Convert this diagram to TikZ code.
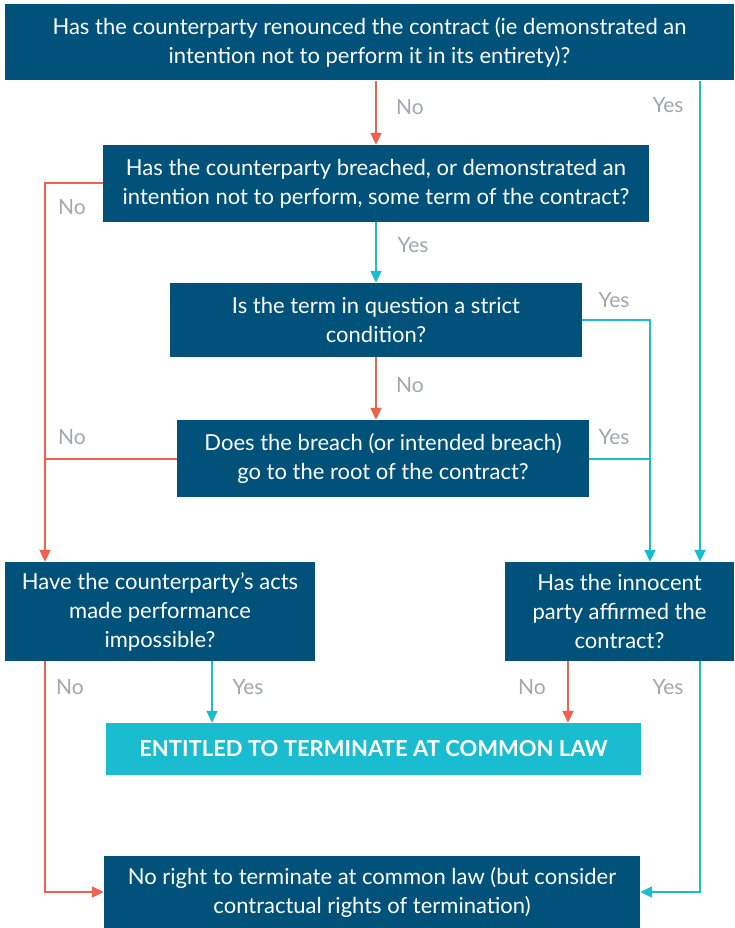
\documentclass[tikz,border=0pt]{standalone}
\usepackage{fontspec}
\setmainfont{Lato}
\usetikzlibrary{arrows.meta}

\definecolor{boxblue}{RGB}{0,82,122}
\definecolor{nored}{RGB}{240,96,77}
\definecolor{yescyan}{RGB}{26,189,208}
\definecolor{labelgray}{RGB}{160,167,173}

\tikzset{
    question/.style={fill=boxblue, text=white, inner sep=0pt, align=center,
        font=\fontsize{22}{29}\selectfont},
    result/.style={fill=yescyan, text=white, inner sep=0pt, align=center,
        font=\fontsize{22}{29}\selectfont\bfseries},
    noline/.style={draw=nored, line width=2pt},
    yesline/.style={draw=yescyan, line width=2pt},
    tip/.style={-{Triangle[length=12pt,width=11pt]}},
    answer/.style={text=labelgray, inner sep=0pt, font=\fontsize{21}{25}\selectfont}
}

\begin{document}
\begin{tikzpicture}[x=1pt, y=-1pt]
    \useasboundingbox (0,0) rectangle (734,928);

    % Columns used by the connectors
    \coordinate (lcol) at (45,0);
    \coordinate (ycol) at (212,0);
    \coordinate (ncol) at (568,0);
    \coordinate (mcol) at (650,0);
    \coordinate (rcol) at (700,0);

    % Draw the question boxes
    \node[question, minimum width=729pt, minimum height=76pt] (q1) at (369.5,42.5)
        {Has the counterparty renounced the contract (ie demonstrated an\\intention not to perform it in its entirety)?};
    \node[question, minimum width=546pt, minimum height=77pt] (q2) at (376,183.5)
        {Has the counterparty breached, or demonstrated an\\intention not to perform, some term of the contract?};
    \node[question, minimum width=412pt, minimum height=74pt] (q3) at (376,320)
        {Is the term in question a strict\\condition?};
    \node[question, minimum width=412pt, minimum height=77pt] (q4) at (383,458.5)
        {Does the breach (or intended breach)\\go to the root of the contract?};
    \node[question, minimum width=310pt, minimum height=99pt] (q5) at (160,611.5)
        {Have the counterparty’s acts\\made performance\\impossible?};
    \node[question, minimum width=229pt, minimum height=99pt] (q6) at (619.5,611.5)
        {Has the innocent\\party affirmed the\\contract?};

    % Outcomes
    \node[result, minimum width=535pt, minimum height=52pt] (entitled) at (373.5,749)
        {ENTITLED TO TERMINATE AT COMMON LAW};
    \node[question, minimum width=536pt, minimum height=72pt] (noright) at (372,892)
        {No right to terminate at common law (but consider\\contractual rights of termination)};

    % No branches
    \draw[noline, tip] (q1.south -| q2.north) -- (q2.north);
    \draw[noline, tip] (q2.west) -| (q5.north -| lcol);
    \draw[noline, tip] (q3.south) -- (q3.south |- q4.north);
    \draw[noline] (q4.west) -- (q4.west -| lcol);
    \draw[noline, tip] (q5.south -| lcol) |- (noright.west);
    \draw[noline, tip] (q6.south -| ncol) -- (entitled.north -| ncol);

    % Yes branches
    \draw[yesline, tip] (q1.south -| rcol) -- (q6.north -| rcol);
    \draw[yesline, tip] (q2.south) -- (q3.north);
    \draw[yesline, tip] (q3.east) -| (q6.north -| mcol);
    \draw[yesline] (q4.east) -- (q4.east -| mcol);
    \draw[yesline, tip] (q5.south -| ycol) -- (entitled.north -| ycol);
    \draw[yesline, tip] (q6.south -| rcol) |- (noright.east);

    % Answer labels
    \node[answer] (n1) at (410,107) {No};
    \node[answer] (y1) at (668,105) {Yes};
    \node[answer] (n2) at (72,207) {No};
    \node[answer] (y2) at (413,245) {Yes};
    \node[answer] (y3) at (614,300) {Yes};
    \node[answer] (n3) at (410,385) {No};
    \node[answer] (n4) at (72,437) {No};
    \node[answer] (y4) at (614,437) {Yes};
    \node[answer] (n5) at (70,687) {No};
    \node[answer] (y5) at (248,687) {Yes};
    \node[answer] (n6) at (532,687) {No};
    \node[answer] (y6) at (668,687) {Yes};
\end{tikzpicture}
\end{document}
